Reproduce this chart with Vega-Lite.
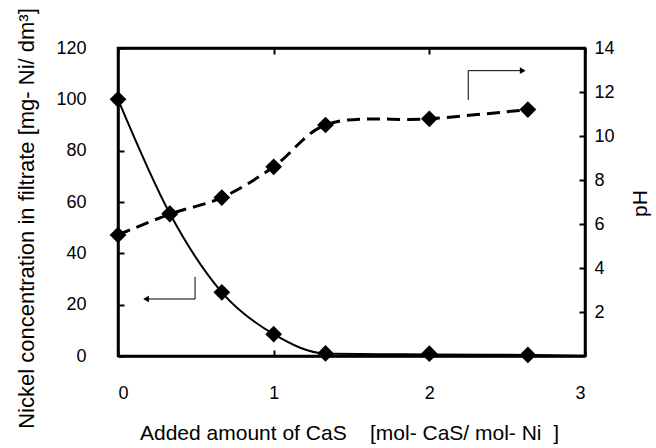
{
  "$schema": "https://vega.github.io/schema/vega-lite/v6.json",
  "width": 467,
  "height": 308,
  "autosize": {"type": "none"},
  "padding": {"left": 118, "top": 48, "right": 71, "bottom": 92},
  "background": "white",
  "config": {
    "font": "Liberation Sans",
    "view": {"stroke": "black", "strokeWidth": 2.5},
    "axis": {
      "grid": false,
      "domainColor": "black",
      "domainWidth": 2.5,
      "tickColor": "black",
      "tickWidth": 2,
      "labelColor": "black",
      "labelFont": "Liberation Sans",
      "labelFontSize": 18,
      "titleColor": "black",
      "titleFont": "Liberation Sans",
      "titleFontSize": 21,
      "titleFontWeight": "normal"
    }
  },
  "datasets": {
    "meas": [
      {"x": 0, "ni": 100, "ph": 5.5},
      {"x": 0.333, "ni": 55.5, "ph": 6.45},
      {"x": 0.667, "ni": 24.8, "ph": 7.2},
      {"x": 1, "ni": 8.5, "ph": 8.6},
      {"x": 1.333, "ni": 1.0, "ph": 10.5},
      {"x": 2, "ni": 0.9, "ph": 10.78},
      {"x": 2.633, "ni": 0.4, "ph": 11.2}
    ],
    "nicurve": [
      {"x": 0, "ni": 100},
      {"x": 0.333, "ni": 55.5},
      {"x": 0.667, "ni": 24.8},
      {"x": 1, "ni": 8.5},
      {"x": 1.333, "ni": 1.0},
      {"x": 2, "ni": 0.6},
      {"x": 2.633, "ni": 0.4},
      {"x": 3, "ni": 0.1}
    ],
    "niarrow": [
      {"x": 0.495, "ni": 30.8, "o": 1},
      {"x": 0.495, "ni": 22.2, "o": 2},
      {"x": 0.18, "ni": 22.2, "o": 3}
    ],
    "niarrowhead": [{"x": 0.18, "ni": 22.2}],
    "pharrow": [
      {"x": 2.25, "ph": 11.64, "o": 1},
      {"x": 2.25, "ph": 12.97, "o": 2},
      {"x": 2.6, "ph": 12.97, "o": 3}
    ],
    "pharrowhead": [{"x": 2.6, "ph": 12.97}]
  },
  "layer": [
    {
      "encoding": {
        "x": {
          "field": "x",
          "type": "quantitative",
          "scale": {"domain": [0, 3], "nice": false},
          "axis": {
            "orient": "bottom",
            "values": [0, 1, 2, 3],
            "tickSize": -6,
            "labelPadding": 34,
            "title": "Added amount of CaS\u00a0\u00a0\u00a0\u00a0[mol- CaS/ mol- Ni\u00a0\u00a0]",
            "titleX": 231,
            "titleY": 77,
            "titleBaseline": "middle"
          }
        },
        "y": {
          "field": "ni",
          "type": "quantitative",
          "scale": {"domain": [0, 120], "nice": false},
          "axis": {
            "orient": "left",
            "values": [0, 20, 40, 60, 80, 100, 120],
            "tickSize": -6,
            "labelPadding": 38,
            "title": "Nickel concentration in filtrate [mg- Ni/ dm³]",
            "titleFontSize": 22,
            "titleAngle": 270,
            "titleX": -92,
            "titleY": 170,
            "titleBaseline": "middle"
          }
        }
      },
      "layer": [
        {
          "data": {"name": "nicurve"},
          "mark": {"type": "line", "interpolate": "monotone", "color": "black", "strokeWidth": 2}
        },
        {
          "data": {"name": "meas"},
          "mark": {"type": "point", "shape": "diamond", "filled": true, "color": "black", "opacity": 1, "size": 280}
        },
        {
          "data": {"name": "niarrow"},
          "mark": {"type": "line", "color": "black", "strokeWidth": 1},
          "encoding": {"order": {"field": "o", "type": "quantitative"}}
        },
        {
          "data": {"name": "niarrowhead"},
          "mark": {"type": "point", "shape": "triangle-left", "filled": true, "color": "black", "opacity": 1, "size": 45}
        }
      ]
    },
    {
      "encoding": {
        "x": {
          "field": "x",
          "type": "quantitative",
          "scale": {"domain": [0, 3], "nice": false},
          "axis": {
            "orient": "top",
            "values": [0, 1, 2, 3],
            "tickSize": -6,
            "labels": false,
            "title": null
          }
        },
        "y": {
          "field": "ph",
          "type": "quantitative",
          "scale": {"domain": [0, 14], "nice": false},
          "axis": {
            "orient": "right",
            "values": [2, 4, 6, 8, 10, 12, 14],
            "tickSize": -6,
            "labelPadding": 15,
            "title": "pH",
            "titleAngle": 270,
            "titleX": 55,
            "titleY": 155,
            "titleBaseline": "middle"
          }
        }
      },
      "layer": [
        {
          "data": {"name": "meas"},
          "mark": {"type": "line", "interpolate": "catmull-rom", "color": "black", "strokeWidth": 3, "strokeDash": [13, 7]}
        },
        {
          "data": {"name": "meas"},
          "mark": {"type": "point", "shape": "diamond", "filled": true, "color": "black", "opacity": 1, "size": 280}
        },
        {
          "data": {"name": "pharrow"},
          "mark": {"type": "line", "color": "black", "strokeWidth": 1},
          "encoding": {"order": {"field": "o", "type": "quantitative"}}
        },
        {
          "data": {"name": "pharrowhead"},
          "mark": {"type": "point", "shape": "triangle-right", "filled": true, "color": "black", "opacity": 1, "size": 45}
        }
      ]
    }
  ],
  "resolve": {"scale": {"y": "independent"}, "axis": {"x": "independent"}}
}
